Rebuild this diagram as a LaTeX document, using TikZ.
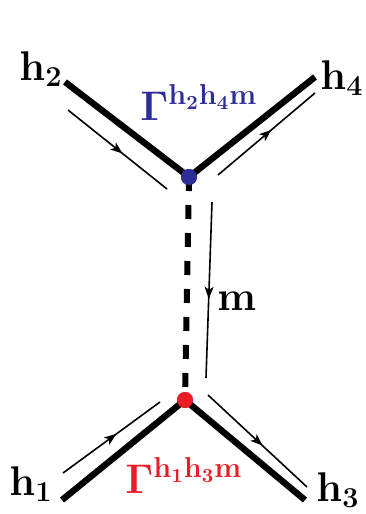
\documentclass[tikz,border=0pt]{standalone}
\usepackage{amsmath,amssymb}
\usepackage{tikz}
\usetikzlibrary{arrows.meta,decorations.markings,positioning}
\definecolor{vertexblue}{RGB}{45,45,150}
\definecolor{vertexred}{RGB}{237,28,36}

\begin{document}
\begin{tikzpicture}[x=0.5pt, y=-0.5pt,
        leg/.style={line width=3.2pt},
        exchange/.style={line width=3pt, dash pattern=on 7pt off 7pt},
        flow/.style={line width=0.8pt, postaction={decorate},
            decoration={markings, mark=at position 0.55 with {\arrow{Stealth[length=6pt,width=4.5pt,inset=1.5pt]}}}},
        vertex/.style={circle, inner sep=0pt, minimum size=8pt},
        lbl/.style={font=\fontsize{19.5}{22}\selectfont, inner sep=0pt}]
    \useasboundingbox (0,0) rectangle (365,514);

    % vertices and external legs
    \node[vertex, fill=vertexblue] (vtop) at (189,177) {};
    \node[vertex, fill=vertexred] (vbot) at (185,400) {};
    \coordinate (e2) at (65,82);
    \coordinate (e4) at (315,77);
    \coordinate (e1) at (62,500);
    \coordinate (e3) at (305,500);

    \draw[leg] (e2) -- (vtop.center) -- (e4);
    \draw[leg] (e1) -- (vbot.center) -- (e3);
    \draw[exchange] (vtop.center) -- (vbot.center);
    \node[vertex, fill=vertexblue] at (vtop) {};
    \node[vertex, fill=vertexred] at (vbot) {};

    % momentum flow
    \coordinate (f2a) at (68,110);  \coordinate (f2b) at (167,189);
    \coordinate (f4a) at (218,175); \coordinate (f4b) at (315,93);
    \coordinate (fma) at (212,202); \coordinate (fmb) at (206,378);
    \coordinate (f1a) at (63,473);  \coordinate (f1b) at (160,402);
    \coordinate (f3a) at (208,395); \coordinate (f3b) at (307,487);
    \draw[flow] (f2a) -- (f2b);
    \draw[flow] (f4a) -- (f4b);
    \draw[flow] (fma) -- (fmb);
    \draw[flow] (f1a) -- (f1b);
    \draw[flow] (f3a) -- (f3b);

    % labels
    \node[lbl] (lh2) at (41,69) {$\mathbf{h_2}$};
    \node[lbl] (lh4) at (342,78) {$\mathbf{h_4}$};
    \node[lbl] (lh1) at (31,484) {$\mathbf{h_1}$};
    \node[lbl] (lh3) at (338,490) {$\mathbf{h_3}$};
    \node[lbl, anchor=base west, text=vertexblue] (gtop) at (140,120) {$\mathbf{\Gamma^{h_2h_4m}}$};
    \node[lbl, anchor=base west, text=vertexred] (gbot) at (125,493) {$\mathbf{\Gamma^{h_1h_3m}}$};
    \node[lbl, anchor=base west] (lm) at (217,310) {$\mathbf{m}$};
\end{tikzpicture}
\end{document}
